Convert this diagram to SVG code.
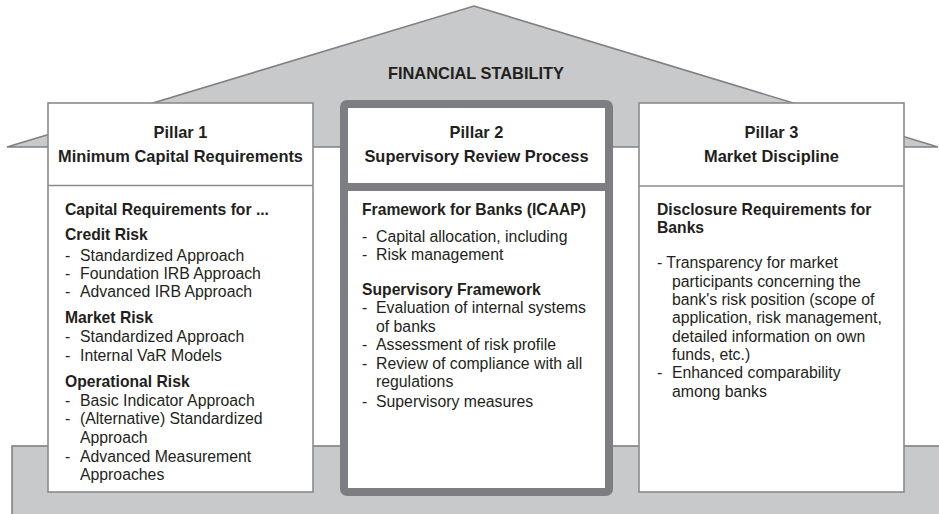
<svg xmlns="http://www.w3.org/2000/svg" width="939" height="514" viewBox="0 0 939 514">
<style>
text{font-family:"Liberation Sans",Arial,sans-serif;fill:#231f20}
.t{font-size:16.4px;font-weight:bold;text-anchor:middle}
.h{font-size:15.7px;font-weight:bold}
.r{font-size:15.8px}
.box{fill:#fff;stroke:#8a8b8d;stroke-width:1.6}
.sep{stroke:#8a8b8d;stroke-width:1.6}
.gray{fill:#c8c9cb;stroke:#808185;stroke-width:1.6}
</style>
<rect width="939" height="514" fill="#fff"/>
<g id="roof">
<polygon class="gray" points="7,147 474,6 938,147"/>
<text class="t" x="476" y="79">FINANCIAL STABILITY</text>
</g>
<g id="base">
<rect class="gray" x="12" y="446" width="940" height="80"/>
</g>
<g id="pillar1">
<rect class="box" x="48" y="103" width="265" height="389"/>
<line class="sep" x1="48" y1="185.5" x2="313" y2="185.5"/>
<text class="t" x="180.5" y="138">Pillar 1</text>
<text class="t" x="180.5" y="162">Minimum Capital Requirements</text>
<text class="h" x="65" y="215">Capital Requirements for ...</text>
<text class="h" x="65" y="240">Credit Risk</text>
<text class="r" x="65" y="261">-</text><text class="r" x="80" y="261">Standardized Approach</text>
<text class="r" x="65" y="279">-</text><text class="r" x="80" y="279">Foundation IRB Approach</text>
<text class="r" x="65" y="297">-</text><text class="r" x="80" y="297">Advanced IRB Approach</text>
<text class="h" x="65" y="323">Market Risk</text>
<text class="r" x="65" y="342">-</text><text class="r" x="80" y="342">Standardized Approach</text>
<text class="r" x="65" y="361">-</text><text class="r" x="80" y="361">Internal VaR Models</text>
<text class="h" x="65" y="387">Operational Risk</text>
<text class="r" x="65" y="406">-</text><text class="r" x="80" y="406">Basic Indicator Approach</text>
<text class="r" x="65" y="424">-</text><text class="r" x="80" y="424">(Alternative) Standardized</text>
<text class="r" x="80" y="443">Approach</text>
<text class="r" x="65" y="462">-</text><text class="r" x="80" y="462">Advanced Measurement</text>
<text class="r" x="80" y="480">Approaches</text>
</g>
<g id="pillar2">
<rect x="344" y="104" width="265" height="388" rx="3" fill="#fff" stroke="#7d7e81" stroke-width="8"/>
<line x1="344" y1="187" x2="609" y2="187" stroke="#7d7e81" stroke-width="8"/>
<text class="t" x="476.5" y="138">Pillar 2</text>
<text class="t" x="476.5" y="162">Supervisory Review Process</text>
<text class="h" x="362" y="215">Framework for Banks (ICAAP)</text>
<text class="r" x="362" y="242">-</text><text class="r" x="376" y="242">Capital allocation, including</text>
<text class="r" x="362" y="260">-</text><text class="r" x="376" y="260">Risk management</text>
<text class="h" x="362" y="295">Supervisory Framework</text>
<text class="r" x="362" y="313">-</text><text class="r" x="376" y="313">Evaluation of internal systems</text>
<text class="r" x="376" y="332">of banks</text>
<text class="r" x="362" y="350">-</text><text class="r" x="376" y="350">Assessment of risk profile</text>
<text class="r" x="362" y="369">-</text><text class="r" x="376" y="369">Review of compliance with all</text>
<text class="r" x="376" y="387">regulations</text>
<text class="r" x="362" y="407">-</text><text class="r" x="376" y="407">Supervisory measures</text>
</g>
<g id="pillar3">
<rect class="box" x="639" y="103" width="265" height="389"/>
<line class="sep" x1="639" y1="186" x2="904" y2="186"/>
<text class="t" x="771.5" y="138">Pillar 3</text>
<text class="t" x="771.5" y="162">Market Discipline</text>
<text class="h" x="657" y="215">Disclosure Requirements for</text>
<text class="h" x="657" y="233">Banks</text>
<text class="r" x="657" y="268">- Transparency for market</text>
<text class="r" x="672" y="287">participants concerning the</text>
<text class="r" x="672" y="305">bank's risk position (scope of</text>
<text class="r" x="672" y="323">application, risk management,</text>
<text class="r" x="672" y="342">detailed information on own</text>
<text class="r" x="672" y="360">funds, etc.)</text>
<text class="r" x="657" y="378">-</text><text class="r" x="672" y="378">Enhanced comparability</text>
<text class="r" x="672" y="397">among banks</text>
</g>
<g id="connectors"/>
</svg>
